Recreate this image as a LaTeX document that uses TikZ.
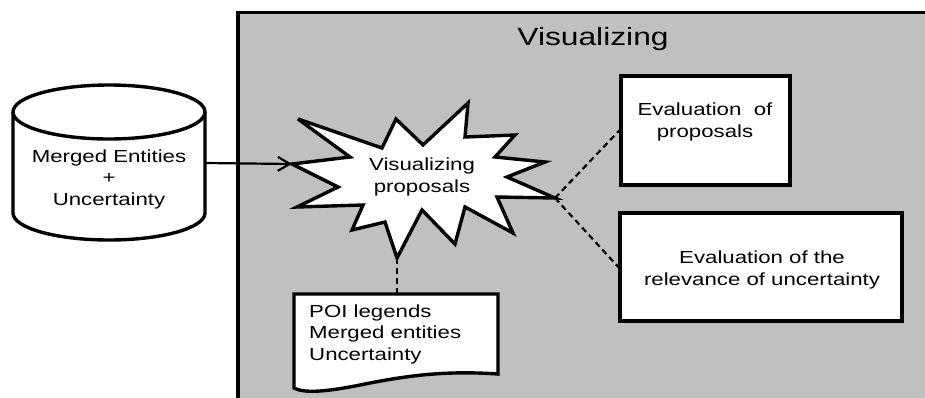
\documentclass[tikz,border=0pt]{standalone}
\usepackage{fontspec}
\setmainfont[FakeStretch=1.27]{Liberation Sans}
\usetikzlibrary{arrows.meta}
\definecolor{panelgray}{HTML}{C0C0C0}
\tikzset{
  shapeline/.style={draw=black, line width=3.4pt, fill=white, line join=miter, miter limit=6},
  body/.style={font=\fontsize{17.5}{21.5}\selectfont, inner sep=0pt},
  evalbox/.style={shapeline, inner sep=0pt},
  dashlink/.style={draw=black, line width=2.2pt, dash pattern=on 6pt off 4pt},
  feed/.style={draw=black, line width=2.2pt, -{Straight Barb[length=12pt,width=14pt,line width=2.2pt]}},
}
\begin{document}
\begin{tikzpicture}[x=1pt,y=-1pt]
\clip (0,0) rectangle (925,397);
\fill[white] (0,0) rectangle (925,397);
% panel
\draw[fill=panelgray, line width=3.4pt] (238,12.5) rectangle (945,415);
\node[font=\fontsize{25}{30}\selectfont, anchor=base, inner sep=0pt] (title) at (593,45) {Visualizing};

% cylinder
\draw[shapeline] (13,112) -- (13,213)
  .. controls (13,227.9) and (56,240) .. (109,240)
  .. controls (162,240) and (205,227.9) .. (205,213) -- (205,112);
\draw[shapeline] (109,112) ellipse [x radius=96, y radius=27];
\node[body, align=center, anchor=base] (db) at (109,205) {Merged Entities\\+\\Uncertainty};
\coordinate (cylR) at (205,163);

% star
\draw[shapeline] (298,119) -- (382,148) -- (396,119) -- (423,145) -- (468,103) -- (465,137)
  -- (515,135) -- (495,157) -- (545,162) -- (507,177) -- (555,198) -- (497,197)
  -- (513,233) -- (465,207) -- (455,244) -- (422,210) -- (397,258) -- (385,222)
  -- (352,230) -- (363,205) -- (297,207) -- (338,187) -- (292,164) -- (350,157) -- cycle;
\node[body, align=center, anchor=base] (star) at (422,192) {Visualizing\\proposals};
\coordinate (starL) at (292,164);
\coordinate (starR) at (555,198);
\coordinate (starB) at (397,258);

% evaluation boxes
\node[evalbox, minimum width=169pt, minimum height=109pt] (ev1) at (705.5,130.5) {};
\node[body, align=center, anchor=base] (ev1t) at (705,137) {Evaluation~\ of\\proposals};
\node[evalbox, minimum width=282pt, minimum height=108pt] (ev2) at (761,267) {};
\node[body, align=center, anchor=base] (ev2t) at (762,285) {Evaluation of the\\relevance of uncertainty};

% document
\draw[shapeline] (294,294) -- (498,294) -- (498,374)
  .. controls (440,370) and (400,377) .. (360,385)
  .. controls (330,391) and (305,394) .. (294,388) -- cycle;
\node[body, align=left, anchor=base west] (doc) at (309,360) {POI legends\\Merged entities\\Uncertainty};
\coordinate (docT) at (397,294);

% connectors
\draw[feed] (cylR) -- (starL);
\draw[dashlink] (starR) -- (ev1.west);
\draw[dashlink] (starR) -- (ev2.west);
\draw[dashlink] (starB) -- (docT);
\end{tikzpicture}
\end{document}
